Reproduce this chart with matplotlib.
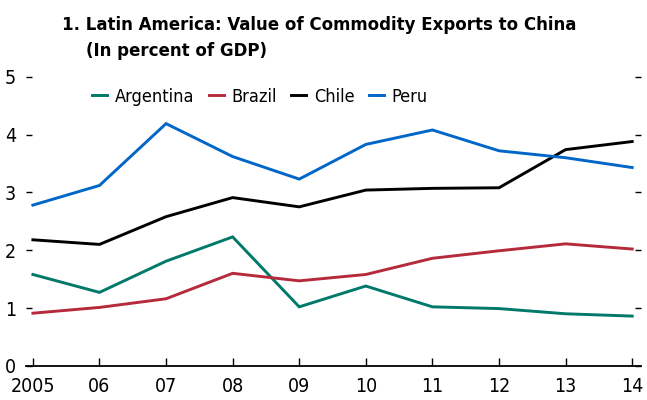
import matplotlib
matplotlib.use("Agg")
import matplotlib.pyplot as plt

plt.rcParams["font.family"] = ["DejaVu Sans"]
plt.rcParams["font.stretch"] = "condensed"

years = [2005, 2006, 2007, 2008, 2009, 2010, 2011, 2012, 2013, 2014]
year_labels = ["2005", "06", "07", "08", "09", "10", "11", "12", "13", "14"]

argentina = [1.58, 1.27, 1.81, 2.23, 1.02, 1.38, 1.02, 0.99, 0.90, 0.86]
brazil = [0.91, 1.01, 1.16, 1.60, 1.47, 1.58, 1.86, 1.99, 2.11, 2.02]
chile = [2.18, 2.10, 2.58, 2.91, 2.75, 3.04, 3.07, 3.08, 3.74, 3.88]
peru = [2.78, 3.12, 4.19, 3.62, 3.23, 3.83, 4.08, 3.72, 3.60, 3.43]

series = [
    ("Argentina", argentina, "#00796A"),
    ("Brazil", brazil, "#B52B3B"),
    ("Chile", chile, "#000000"),
    ("Peru", peru, "#0066C8"),
]

fig = plt.figure(figsize=(6.47, 4.0), dpi=100)
ax = fig.add_axes([0.040, 0.0855, 0.951, 0.7225])

for name, vals, col in series:
    ax.plot(years, vals, color=col, lw=2.1, label=name, solid_joinstyle="miter")

ax.set_xlim(2004.895, 2014.135)
ax.set_ylim(0, 5)

for s in ["top", "left", "right"]:
    ax.spines[s].set_visible(False)
ax.spines["bottom"].set_linewidth(1.3)

ax.set_xticks(years)
ax.set_xticklabels(year_labels)
ax.set_yticks([0, 1, 2, 3, 4, 5])
ax.tick_params(axis="x", direction="in", length=6, width=1, labelsize=14, pad=8)
ax.tick_params(axis="y", direction="in", length=4.5, width=1, labelsize=14, pad=7,
               right=True, labelright=False)

ax.legend(loc="upper left", bbox_to_anchor=(0.09, 1.0), ncol=4, frameon=False,
          fontsize=13, handlelength=0.85, handletextpad=0.4, columnspacing=0.8,
          borderaxespad=0.2)

fig.text(62 / 647, 1 - 30 / 400, "1. Latin America: Value of Commodity Exports to China",
         fontsize=13.3, fontweight="bold", ha="left", va="baseline")
fig.text(86 / 647, 1 - 56 / 400, "(In percent of GDP)",
         fontsize=13.3, fontweight="bold", ha="left", va="baseline")

fig.savefig("out.png", dpi=100)
